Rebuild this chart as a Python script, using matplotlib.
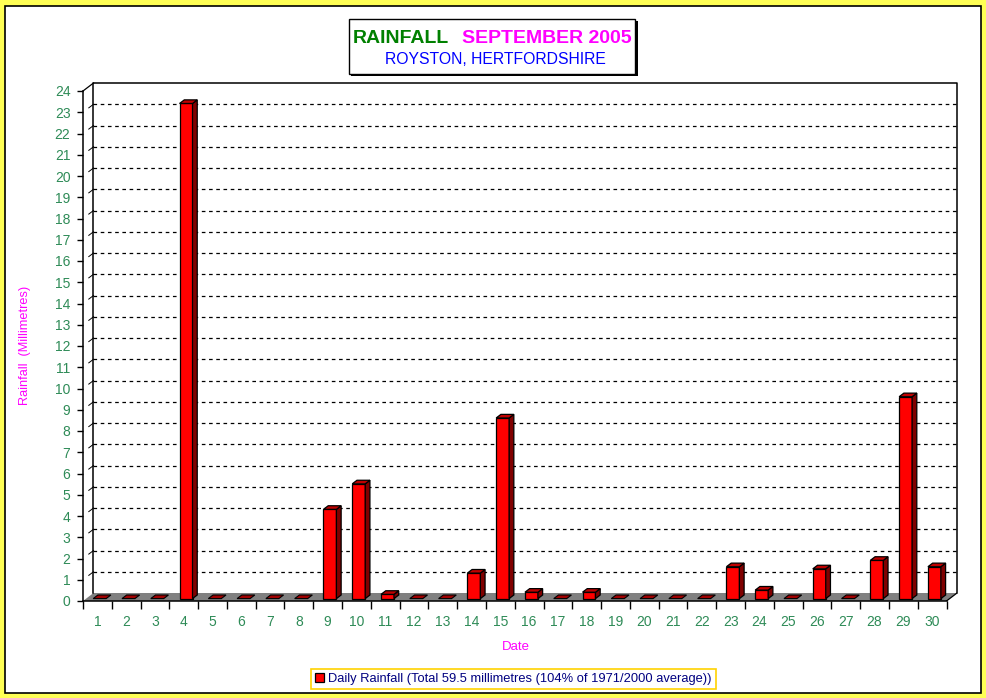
import matplotlib
matplotlib.use('Agg')
import matplotlib.pyplot as plt
from matplotlib.patches import Polygon, Rectangle, Patch

plt.rcParams['font.family'] = ['Liberation Sans', 'DejaVu Sans']
plt.rcParams['lines.scale_dashes'] = False

# data
days = list(range(1, 31))
rain = [0, 0, 0, 23.3, 0, 0, 0, 0, 4.2, 5.4,
        0.2, 0, 0, 1.2, 8.5, 0.3, 0, 0.3, 0, 0,
        0, 0, 1.5, 0.4, 0, 1.4, 0, 1.8, 9.5, 1.5]
yticks = list(range(0, 25))
title1 = 'RAINFALL'
title2 = 'SEPTEMBER 2005'
subtitle = 'ROYSTON, HERTFORDSHIRE'
legend_label = 'Daily Rainfall (Total 59.5 millimetres (104% of 1971/2000 average))'

W, H = 987, 698
def fx(px):
    return px / W
def fy(py):
    return 1 - py / H

fig = plt.figure(figsize=(W / 100, H / 100), dpi=100)
fig.patch.set_facecolor('#FFFF55')
fig.patches.append(Rectangle((fx(5.5), fy(692.5)), (981.5 - 5.5) / W, (692.5 - 5.5) / H,
                             transform=fig.transFigure, facecolor='white',
                             edgecolor='black', lw=1.2, zorder=-5))

# depth offset of the back wall, in data units
DX = 30 * 10.5 / 863.5
DY = 24 * 8 / 510.0

ax = fig.add_axes([fx(83), fy(601), (957 - 83) / W, (601 - 83) / H])
ax.set_facecolor('none')
ax.set_xlim(0.5, 30.5 + DX)
ax.set_ylim(0, 24 + DY)

# floor
ax.add_patch(Polygon([(0.5, 0), (30.5, 0), (30.5 + DX, DY), (0.5 + DX, DY)],
                     closed=True, facecolor='#808080', edgecolor='none', zorder=1))
ax.plot([30.5, 30.5 + DX], [0, DY], color='black', lw=0.9, zorder=2)

# back wall frame
ax.plot([0.5 + DX, 0.5 + DX, 30.5 + DX, 30.5 + DX], [DY, 24 + DY, 24 + DY, DY],
        color='black', lw=1.1, zorder=2, clip_on=False)
ax.plot([0.5, 0.5 + DX], [24, 24 + DY], color='black', lw=0.9, zorder=2, clip_on=False)

# gridlines on back wall + slanted marks on side wall
for v in yticks[1:-1]:
    ax.plot([0.5 + DX, 30.5 + DX], [v + DY, v + DY], color='black', lw=0.9,
            dashes=(2.6, 2.6), zorder=2)
    ax.plot([0.5 + DX * 0.55, 0.5 + DX], [v + DY * 0.55, v + DY], color='black',
            lw=0.7, zorder=2)

# 3D bars
w = 0.45
f0, f1 = 0.3, 0.75
for d, v in zip(days, rain):
    x0 = d - w / 2 + f0 * DX - 0.03
    x1 = x0 + w
    y0 = f0 * DY
    ddx = (f1 - f0) * DX
    ddy = (f1 - f0) * DY
    top = [(x0, y0 + v), (x1, y0 + v), (x1 + ddx, y0 + v + ddy), (x0 + ddx, y0 + v + ddy)]
    if v > 0:
        ax.add_patch(Rectangle((x0, y0), w, v, facecolor='#FF0000', edgecolor='black',
                               lw=0.9, zorder=4))
        ax.add_patch(Polygon([(x1, y0), (x1 + ddx, y0 + ddy), (x1 + ddx, y0 + v + ddy),
                              (x1, y0 + v)], closed=True, facecolor='#800000',
                             edgecolor='black', lw=0.9, zorder=4))
        ax.add_patch(Polygon(top, closed=True, facecolor='#C00000', edgecolor='black',
                             lw=0.9, zorder=4))
    else:
        ax.add_patch(Polygon(top, closed=True, facecolor='#A00000', edgecolor='black',
                             lw=0.8, zorder=4))

# axes
for s in ['top', 'right']:
    ax.spines[s].set_visible(False)
ax.spines['left'].set_bounds(0, 24)
ax.spines['bottom'].set_bounds(0.5, 30.5)
for s in ['left', 'bottom']:
    ax.spines[s].set_linewidth(1.1)
    ax.spines[s].set_zorder(5)

ax.set_yticks(yticks)
ax.set_yticklabels([str(v) for v in yticks])
ax.tick_params(axis='y', length=4, width=1, color='black', pad=5,
               labelcolor='#2E8B57', labelsize=10)

ax.set_xticks([d - 0.5 for d in days] + [30.5])
ax.set_xticklabels([])
ax.set_xticks(days, minor=True)
ax.set_xticklabels([str(d) for d in days], minor=True)
ax.tick_params(axis='x', which='major', length=6, width=1, color='black')
ax.tick_params(axis='x', which='minor', length=0, pad=10,
               labelcolor='#2E8B57', labelsize=10)

fig.text(fx(25), fy(345), 'Rainfall  (Millimetres)', rotation=90, color='#FF00FF',
         fontsize=9.2, ha='center', va='center')
fig.text(fx(516), fy(647), 'Date', color='#FF00FF', fontsize=9.5, ha='center', va='center')

# title box with shadow
fig.patches.append(Rectangle((fx(351.5), fy(76)), (637.5 - 351.5) / W, (76 - 21.5) / H,
                             transform=fig.transFigure, facecolor='black',
                             edgecolor='black', lw=0, zorder=-1))
fig.patches.append(Rectangle((fx(349.5), fy(74)), (635 - 349.5) / W, (74 - 19.5) / H,
                             transform=fig.transFigure, facecolor='white',
                             edgecolor='black', lw=1, zorder=0))
fig.text(fx(353), fy(43), title1, color='#008000', fontsize=14, fontweight='bold',
         ha='left', va='baseline')
fig.text(fx(632), fy(43), title2, color='#FF00FF', fontsize=14, fontweight='bold',
         ha='right', va='baseline')
fig.text(fx(495), fy(64), subtitle, color='#0000FF', fontsize=11.3,
         ha='center', va='baseline')

leg = ax.legend(handles=[Patch(facecolor='#FF0000', edgecolor='black', lw=0.9)],
                labels=[legend_label], loc='center',
                bbox_to_anchor=(fx(513.5), fy(679)), bbox_transform=fig.transFigure,
                fancybox=False, framealpha=1, edgecolor='#FFD200',
                handlelength=0.7, handleheight=0.7, handletextpad=0.3,
                borderpad=0.3, borderaxespad=0, fontsize=9.3)
leg.get_frame().set_linewidth(1.2)
for t in leg.get_texts():
    t.set_color('#000080')

fig.savefig('out.png', dpi=100, facecolor=fig.get_facecolor())
